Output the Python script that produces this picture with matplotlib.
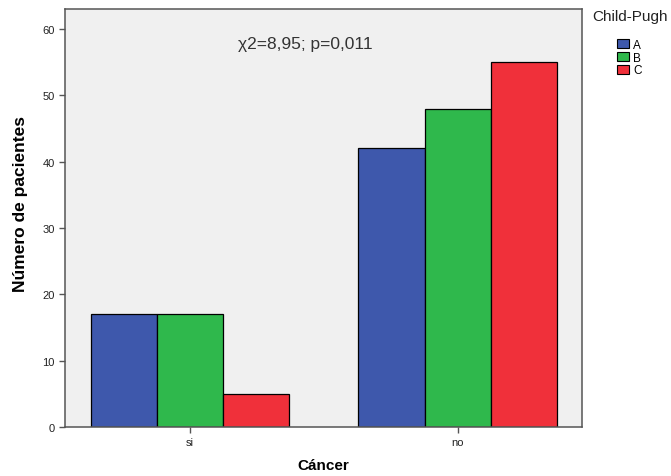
import numpy as np
import matplotlib.pyplot as plt
from matplotlib.patches import Patch

grupos = ['si', 'no']
child_pugh = ['A', 'B', 'C']
valores = {
    'A': [17, 42],
    'B': [17, 48],
    'C': [5, 55],
}
colores = ['#3E58AC', '#2FB84C', '#F0303A']

plt.rcParams['font.family'] = ['Liberation Sans', 'DejaVu Sans']

fig = plt.figure(figsize=(6.71, 4.77), dpi=100)
ax = fig.add_axes([0.0969, 0.1027, 0.7705, 0.8773])
ax.set_facecolor('#F0F0F0')

x = np.arange(len(grupos))
w = 0.247
for i, k in enumerate(child_pugh):
    ax.bar(x + (i - 1) * w, valores[k], width=w, color=colores[i],
           edgecolor='black', linewidth=0.9, zorder=2)

ax.set_xlim(-0.467, 1.465)
ax.set_ylim(0, 63.1)
ax.set_yticks(np.arange(0, 61, 10))
ax.set_xticks(x)
ax.set_xticklabels(grupos)
ax.tick_params(axis='both', labelsize=8, length=4, width=1, color='#555555', labelcolor='#222222')
for s in ax.spines.values():
    s.set_color('#555555')
    s.set_linewidth(1.1)

ax.set_ylabel('Número de pacientes', fontsize=12.5, fontweight='bold',
              family=['Liberation Sans Narrow', 'Liberation Sans', 'DejaVu Sans'])
ax.yaxis.set_label_coords(-0.072, 0.535)
ax.set_xlabel('Cáncer', fontsize=11, fontweight='bold')
ax.xaxis.set_label_coords(0.5, -0.075)

ax.text(0.43, 57.8, 'χ2=8,95; p=0,011', fontsize=12.5, color='#333333', ha='center', va='center')

# leyenda
fig.text(592 / 671, 1 - 17 / 477, 'Child-Pugh', fontsize=11, color='#222222', va='center', ha='left')
handles = [Patch(facecolor=c, edgecolor='black', linewidth=0.8) for c in colores]
leg = fig.legend(handles, child_pugh, loc='upper left',
                 bbox_to_anchor=(616.5 / 671, 1 - 40 / 477), frameon=False, fontsize=8.5,
                 handlelength=1.1, handleheight=0.8, borderpad=0,
                 handletextpad=0.3, labelspacing=0.05, borderaxespad=0)

fig.savefig('out.png', dpi=100)
